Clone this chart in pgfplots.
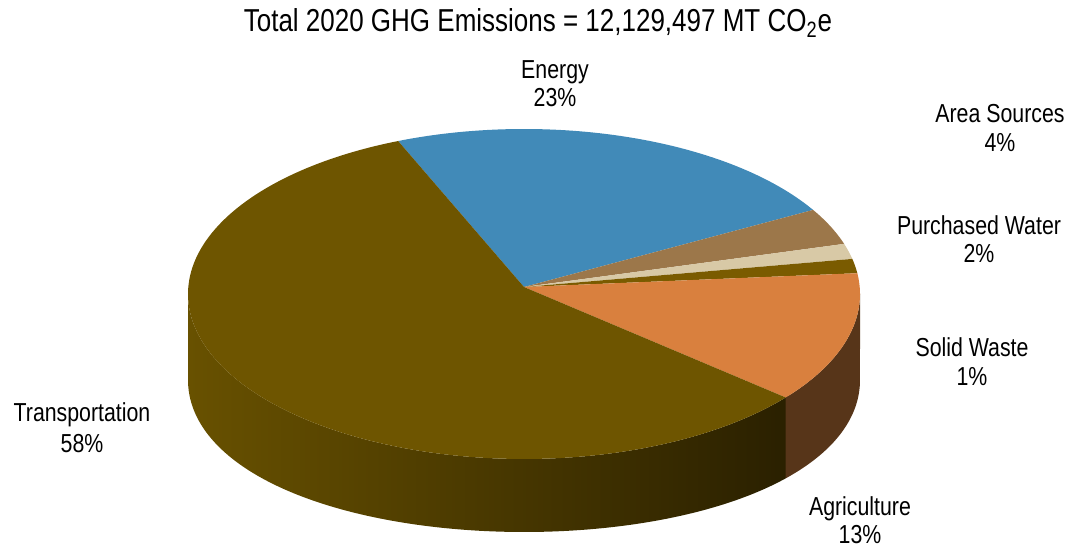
\documentclass[border=0pt]{standalone}
\usepackage{pgfplots}
\pgfplotsset{compat=1.18}
\usepackage{fontspec}
\setmainfont{Liberation Sans}[FakeStretch=0.82]
\definecolor{cEnergy}{HTML}{418AB8}
\definecolor{cArea}{HTML}{9C774A}
\definecolor{cWater}{HTML}{D8C9A6}
\definecolor{cWaste}{HTML}{7A5B00}
\definecolor{cAgri}{HTML}{D9803E}
\definecolor{cTrans}{HTML}{6E5500}
\definecolor{sAgri}{HTML}{573519}
\definecolor{sTransL}{HTML}{685100}
\definecolor{sTransR}{HTML}{2A2000}
% geometry (pixel units of the 1070x550 picture)
\def\cx{524}\def\cy{294}\def\rx{336}\def\ry{165}
\def\px{524}\def\py{287}% apex of the wedges
% shares in percent (clockwise from the start angle)
\def\vEnergy{22.6}\def\vArea{3.6}\def\vWater{1.5}\def\vWaste{1.4}\def\vAgri{12.8}\def\vTrans{58.1}
\pgfmathsetmacro\aA{112}
\pgfmathsetmacro\aB{\aA-3.6*\vEnergy}
\pgfmathsetmacro\aC{\aB-3.6*\vArea}
\pgfmathsetmacro\aD{\aC-3.6*\vWater}
\pgfmathsetmacro\aE{\aD-3.6*\vWaste}
\pgfmathsetmacro\aF{\aE-3.6*\vAgri}
\pgfmathsetmacro\aG{\aF-3.6*\vTrans}
\pgfmathsetmacro\aFx{\aF+1.0}
\newcommand\topwedge[3]{%
  \addplot[draw=none, fill=#3, domain=#2:#1, samples=150]
    ({\cx+\rx*cos(x)}, {\cy-\ry*sin(x)}) -- (axis cs:\px,\py) -- cycle;
}
\newcommand\sideband[3]{%
  \addplot[draw=none, #3, domain=0:2, samples=301]
    ({\cx+\rx*cos(ifthenelse(x<=1,#1+(#2-#1)*x,#2+(#1-#2)*(x-1)))},
     {\cy-\ry*sin(ifthenelse(x<=1,#1+(#2-#1)*x,#2+(#1-#2)*(x-1)))
       +ifthenelse(x<=1,0,73+13*cos(ifthenelse(x<=1,#1+(#2-#1)*x,#2+(#1-#2)*(x-1)))^2)}) -- cycle;
}
\begin{document}
\begin{tikzpicture}
\begin{axis}[
  width=535pt, height=275pt, scale only axis,
  xmin=0, xmax=1070, ymin=0, ymax=550, y dir=reverse,
  hide axis, clip=false]
\path (axis cs:0,0) rectangle (axis cs:1070,550);
% sides
\sideband{-180}{\aFx}{left color=sTransL, right color=sTransR}
\sideband{\aF}{0}{fill=sAgri}
% top
\topwedge{\aA}{\aB}{cEnergy}
\topwedge{\aB}{\aC}{cArea}
\topwedge{\aC}{\aD}{cWater}
\topwedge{\aD}{\aE}{cWaste}
\topwedge{\aE}{\aF}{cAgri}
\topwedge{\aF}{\aG}{cTrans}
% title
\node[anchor=base, font=\fontsize{15.85}{18}\selectfont] at (axis cs:538,32)
  {Total 2020 GHG Emissions = 12,129,497 MT CO\textsubscript{2}e};
% labels
\begin{scope}[every node/.style={anchor=base, font=\fontsize{13}{15}\selectfont, inner sep=0pt}]
\node at (axis cs:555,79) {Energy};
\node at (axis cs:555,107) {23\%};
\node at (axis cs:1000,123) {Area Sources};
\node at (axis cs:1000,152) {4\%};
\node at (axis cs:979,235) {Purchased Water};
\node at (axis cs:979,263) {2\%};
\node at (axis cs:972,357) {Solid Waste};
\node at (axis cs:972,386) {1\%};
\node at (axis cs:860,515) {Agriculture};
\node at (axis cs:860,543) {13\%};
\node at (axis cs:82,422) {Transportation};
\node at (axis cs:82,452) {58\%};
\end{scope}
\end{axis}
\end{tikzpicture}
\end{document}
